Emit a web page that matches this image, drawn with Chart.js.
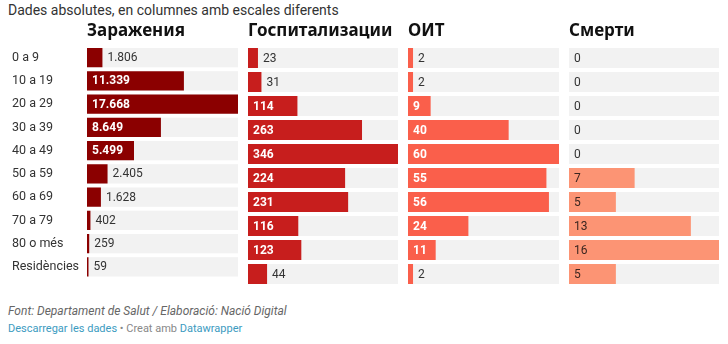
<!DOCTYPE html>
<html>
<head>
<meta charset="utf-8">
<script src="https://cdn.jsdelivr.net/npm/chart.js@4"></script>
<style>
  body { margin: 0; background: #fff; width: 728px; height: 344px; overflow: hidden; position: relative; font-family: Roboto, sans-serif; }
  .sub { position: absolute; left: 8px; top: 2px; font-size: 14px; color: #333; }
  canvas { position: absolute; top: 0; }
  .foot { position: absolute; left: 8px; top: 304px; font-size: 12px; color: #666; font-style: italic; }
  .links { position: absolute; left: 8px; top: 322px; font-size: 11px; color: #888; }
  .links a { color: #3c9bbf; text-decoration: none; }
</style>
</head>
<body>
<div class="sub">Dades absolutes, en columnes amb escales diferents</div>
<canvas id="c1" width="238" height="286" style="left:0"></canvas>
<canvas id="c2" width="150" height="286" style="left:248px"></canvas>
<canvas id="c3" width="151" height="286" style="left:408px"></canvas>
<canvas id="c4" width="150" height="286" style="left:569px"></canvas>
<div class="foot">Font: Departament de Salut / Elaboració: Nació Digital</div>
<div class="links"><a>Descarregar les dades</a> • Creat amb <a>Datawrapper</a></div>
<script>
const grups = ['0 a 9', '10 a 19', '20 a 29', '30 a 39', '40 a 49', '50 a 59', '60 a 69', '70 a 79', '80 o més', 'Residències'];
const contagis = [1806, 11339, 17668, 8649, 5499, 2405, 1628, 402, 259, 59];
const hospitalitzats = [23, 31, 114, 263, 346, 224, 231, 116, 123, 44];
const uci = [2, 2, 9, 40, 60, 55, 56, 24, 11, 2];
const morts = [0, 0, 0, 0, 0, 7, 5, 13, 16, 5];

const fmt = v => String(v).replace(/\B(?=(\d{3})+(?!\d))/g, '.');

// grey track behind each row
const rowBg = {
  id: 'rowBg',
  beforeDatasetsDraw(chart) {
    const { ctx, chartArea: a } = chart;
    ctx.save();
    ctx.fillStyle = '#f2f2f2';
    chart.getDatasetMeta(0).data.forEach(b => {
      ctx.fillRect(a.left, b.y - b.height / 2, a.right - a.left, b.height);
    });
    ctx.restore();
  }
};

// value labels: inside the bar when it fits, else just after it
const valueLabels = {
  id: 'valueLabels',
  afterDatasetsDraw(chart, args, opts) {
    const { ctx } = chart;
    const ds = chart.data.datasets[0];
    ctx.save();
    ctx.textBaseline = 'middle';
    chart.getDatasetMeta(0).data.forEach((b, i) => {
      const txt = fmt(ds.data[i]);
      const w = Math.abs(b.x - b.base);
      ctx.font = `${opts.insideWeight} 12px Roboto`;
      const tw = ctx.measureText(txt).width;
      if (tw + 10 <= w) {
        ctx.fillStyle = opts.insideColor;
        ctx.fillText(txt, b.base + 5, b.y + 0.5);
      } else {
        ctx.font = '400 12px Roboto';
        ctx.fillStyle = '#333';
        ctx.fillText(txt, b.x + 5, b.y + 0.5);
      }
    });
    ctx.restore();
  }
};

// column heading above the plot area
const colHeader = {
  id: 'colHeader',
  afterDraw(chart, args, opts) {
    const { ctx, chartArea: a } = chart;
    ctx.save();
    ctx.font = '700 17px "Noto Sans"';
    ctx.fillStyle = '#111';
    ctx.textBaseline = 'alphabetic';
    ctx.fillText(opts.text, a.left, 36);
    ctx.restore();
  }
};

function column(id, title, data, color, insideColor, insideWeight, withLabels, minLen) {
  return new Chart(document.getElementById(id), {
    type: 'bar',
    data: {
      labels: grups,
      datasets: [{
        data,
        backgroundColor: color,
        barPercentage: 20 / 24,
        categoryPercentage: 1,
        minBarLength: minLen
      }]
    },
    options: {
      indexAxis: 'y',
      responsive: false,
      animation: false,
      devicePixelRatio: 1,
      layout: { padding: { top: 46, bottom: 0, left: withLabels ? 12 : 0, right: 0 } },
      plugins: {
        legend: { display: false },
        tooltip: { enabled: false },
        colHeader: { text: title },
        valueLabels: { insideColor, insideWeight }
      },
      scales: {
        x: { display: false, min: 0, max: Math.max(...data) },
        y: withLabels ? {
          position: 'left',
          grid: { display: false },
          border: { display: false },
          ticks: { crossAlign: 'far', padding: 0, color: '#333', font: { family: 'Roboto', size: 12.5 } },
          afterFit(s) { s.width = 75; }
        } : { display: false }
      }
    },
    plugins: [rowBg, valueLabels, colHeader]
  });
}

column('c1', 'Заражения', contagis, '#8b0000', '#fff', 700, true, 1.5);
column('c2', 'Госпитализации', hospitalitzats, '#c71e1d', '#fff', 700, false, 0);
column('c3', 'ОИТ', uci, '#fa5f4b', '#fff', 700, false, 0);
column('c4', 'Смерти', morts, '#fc9474', '#3b2620', 400, false, 0);
</script>
</body>
</html>
